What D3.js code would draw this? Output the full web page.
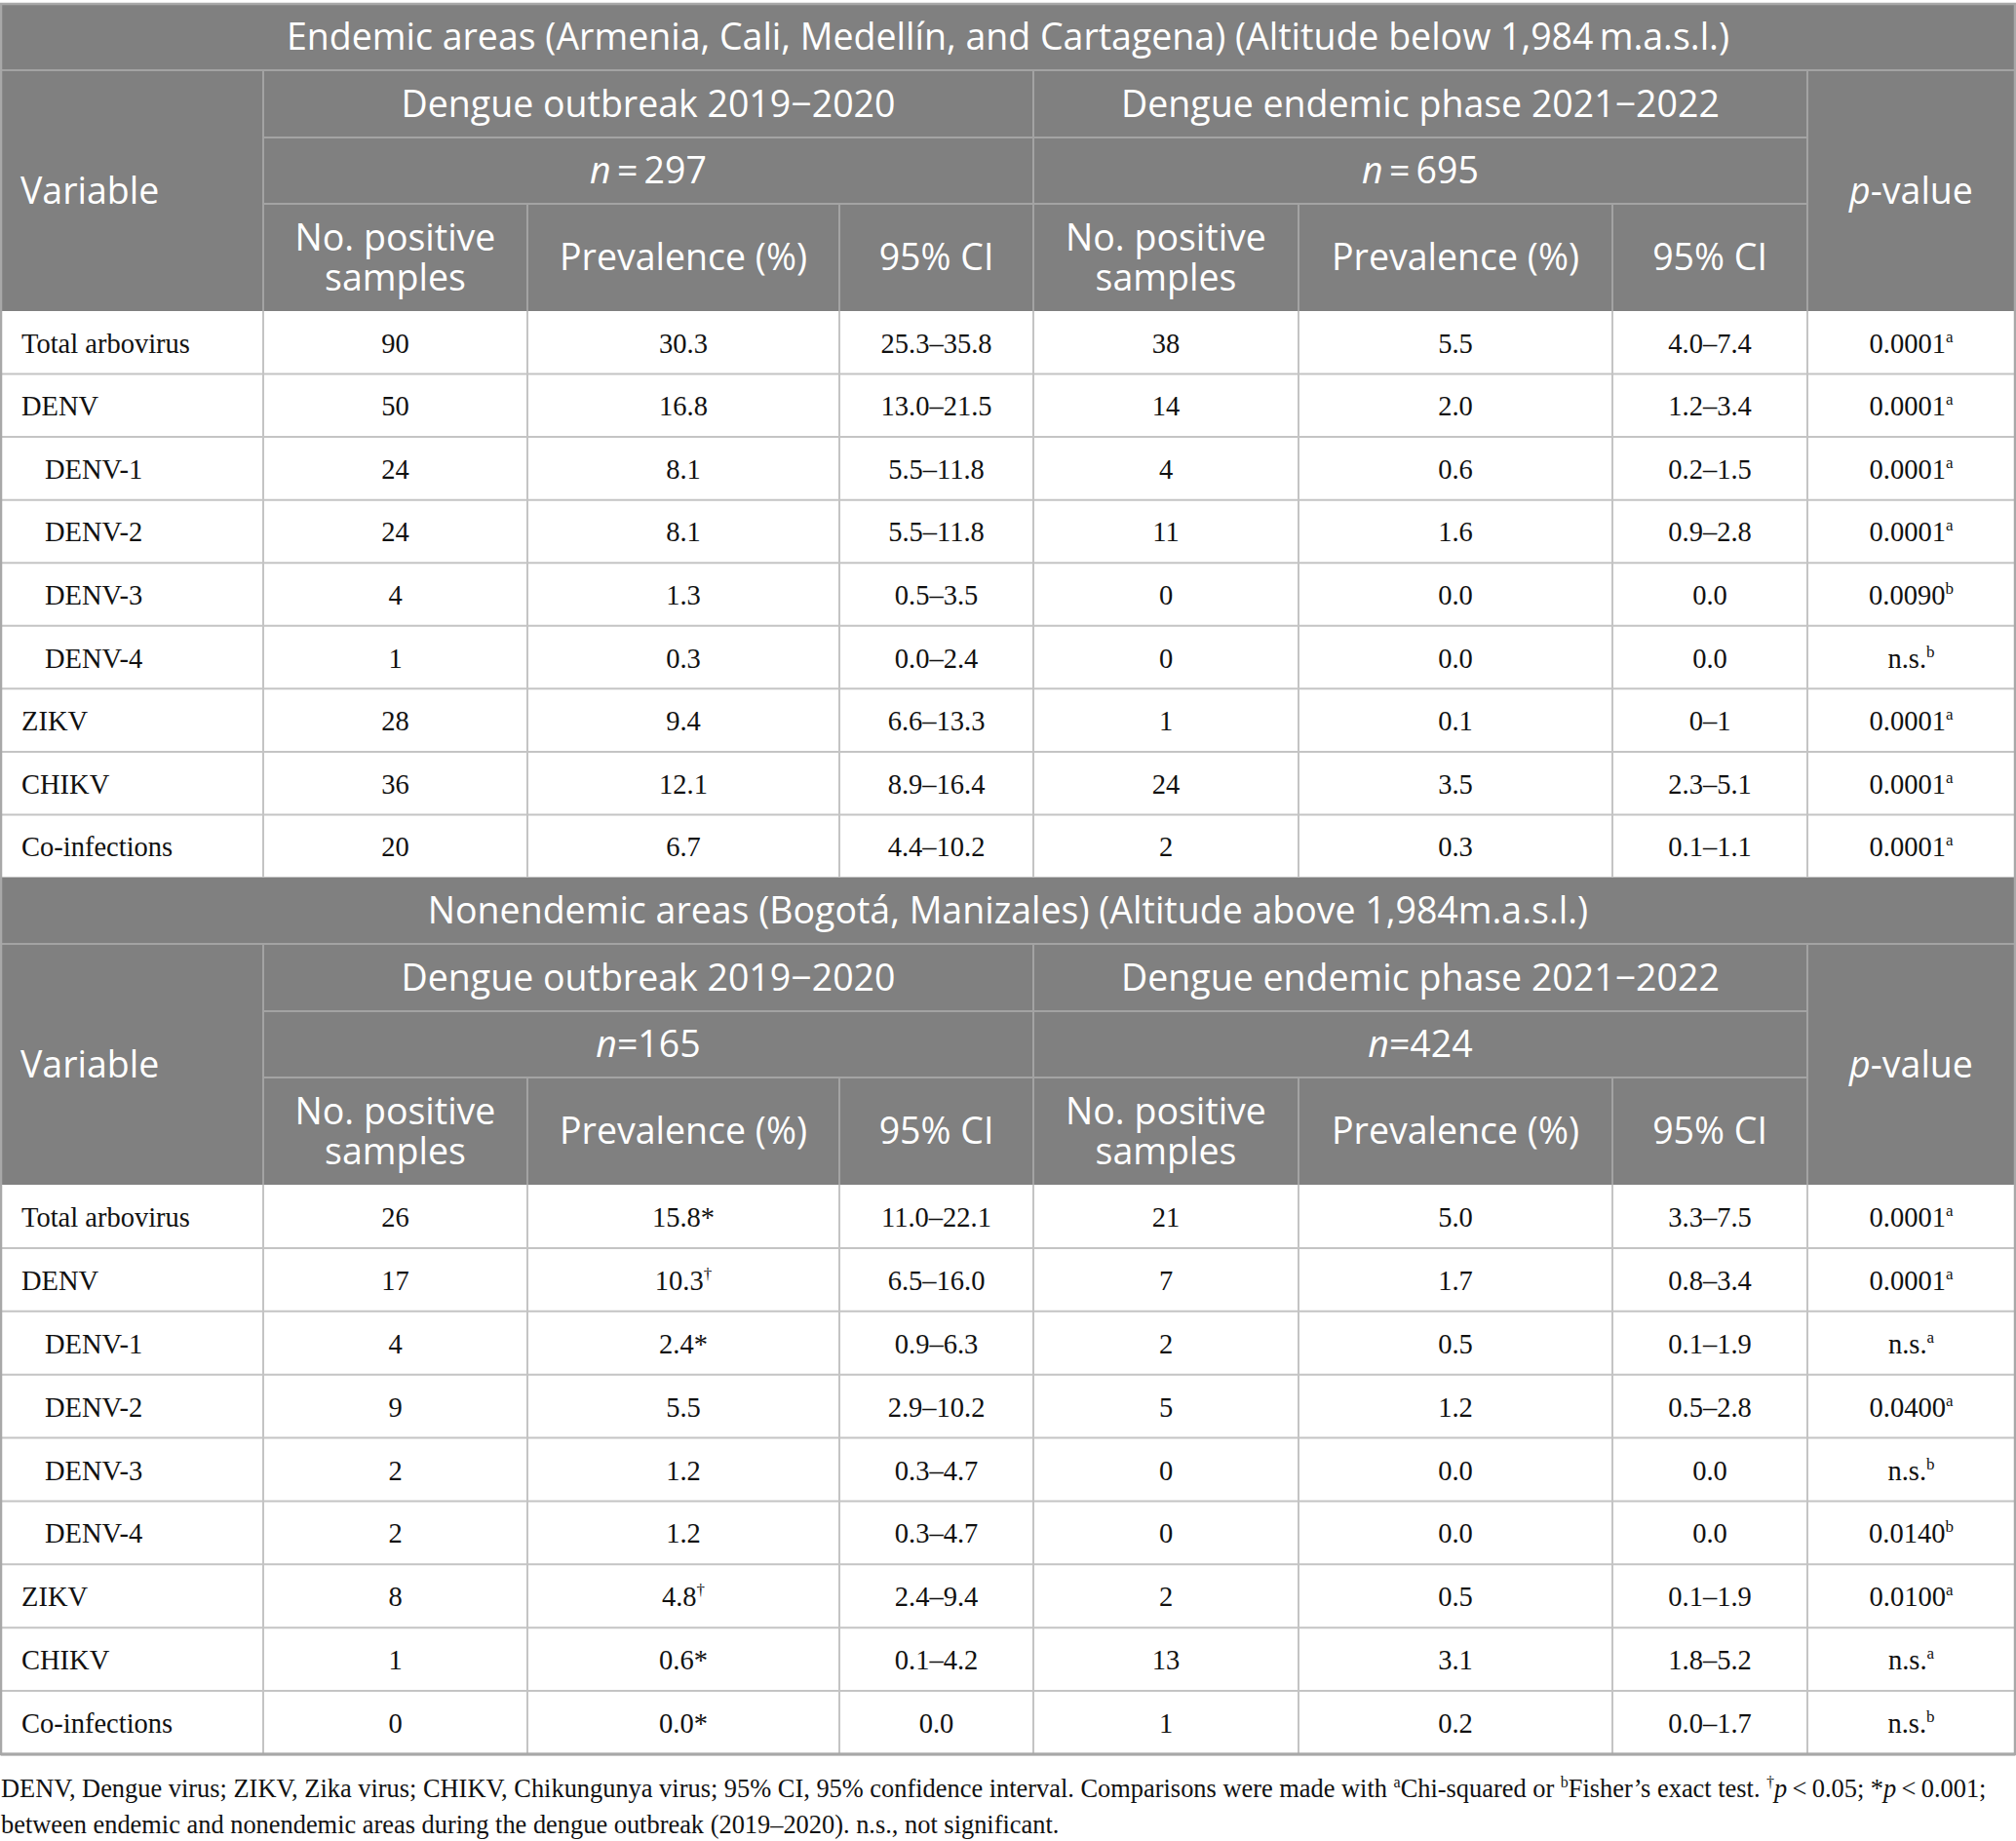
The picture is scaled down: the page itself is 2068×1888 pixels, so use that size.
<!DOCTYPE html>
<html><head><meta charset="utf-8">
<script src="https://cdn.jsdelivr.net/npm/d3@7/dist/d3.min.js"></script>
<style>body{margin:0;background:#fff}</style>
</head><body>
<svg id="chart" width="2068" height="1888"></svg>
<script>
// ---------- DATA ----------
const variables = ["Total arbovirus","DENV","DENV-1","DENV-2","DENV-3","DENV-4","ZIKV","CHIKV","Co-infections"];
const indented  = [false,false,true,true,true,true,false,false,false];

const sectionTitles = [
  "Endemic areas (Armenia, Cali, Medellín, and Cartagena) (Altitude below 1,984\u2009m.a.s.l.)",
  "Nonendemic areas (Bogotá, Manizales) (Altitude above 1,984m.a.s.l.)"
];
const periodLabels = ["Dengue outbreak 2019\u22122020","Dengue endemic phase 2021\u22122022"];
const sampleSizes1 = ["297","695"];
const sampleSizes2 = ["165","424"];
const subHeaders = [["No. positive","samples"],["Prevalence (%)"],["95% CI"]];

// Endemic areas
const e_outPos  = ["90","50","24","24","4","1","28","36","20"];
const e_outPrev = ["30.3","16.8","8.1","8.1","1.3","0.3","9.4","12.1","6.7"];
const e_outCI   = ["25.3–35.8","13.0–21.5","5.5–11.8","5.5–11.8","0.5–3.5","0.0–2.4","6.6–13.3","8.9–16.4","4.4–10.2"];
const e_endPos  = ["38","14","4","11","0","0","1","24","2"];
const e_endPrev = ["5.5","2.0","0.6","1.6","0.0","0.0","0.1","3.5","0.3"];
const e_endCI   = ["4.0–7.4","1.2–3.4","0.2–1.5","0.9–2.8","0.0","0.0","0–1","2.3–5.1","0.1–1.1"];
const e_p       = ["0.0001","0.0001","0.0001","0.0001","0.0090","n.s.","0.0001","0.0001","0.0001"];
const e_pSup    = ["a","a","a","a","b","b","a","a","a"];

// Nonendemic areas
const n_outPos  = ["26","17","4","9","2","2","8","1","0"];
const n_outPrev = ["15.8","10.3","2.4","5.5","1.2","1.2","4.8","0.6","0.0"];
const n_outMark = ["*","†","*","","","","†","*","*"];
const n_outCI   = ["11.0–22.1","6.5–16.0","0.9–6.3","2.9–10.2","0.3–4.7","0.3–4.7","2.4–9.4","0.1–4.2","0.0"];
const n_endPos  = ["21","7","2","5","0","0","2","13","1"];
const n_endPrev = ["5.0","1.7","0.5","1.2","0.0","0.0","0.5","3.1","0.2"];
const n_endCI   = ["3.3–7.5","0.8–3.4","0.1–1.9","0.5–2.8","0.0","0.0","0.1–1.9","1.8–5.2","0.0–1.7"];
const n_p       = ["0.0001","0.0001","n.s.","0.0400","n.s.","0.0140","0.0100","n.s.","n.s."];
const n_pSup    = ["a","a","a","a","b","b","a","a","b"];

// ---------- LAYOUT ----------
const W = 2068;
const colEdges = [1,270,541,861,1060,1332,1654,1854,2067];
const col = d3.scaleOrdinal().domain(d3.range(9)).range(colEdges);
const colMid = i => (col(i)+col(i+1))/2;

const HEAD_BG = "#808080", HEAD_LINE = "#a3a3a3", GRID = "#c4c4c4";
const SANS = "'Open Sans', 'Noto Sans', sans-serif";
const SERIF = "'Liberation Serif', 'DejaVu Serif', serif";

const svg = d3.select("#chart");

function section(top, title, nLabels, rowsTop, rowsBottom, cols) {
  const hy = [top, top+68, top+137, top+205, rowsTop];
  const g = svg.append("g");
  g.append("rect").attr("x",1).attr("y",top).attr("width",W-2).attr("height",rowsTop-top).attr("fill",HEAD_BG);

  const L = (x1,y1,x2,y2,c) => g.append("line").attr("x1",x1).attr("y1",y1).attr("x2",x2).attr("y2",y2)
      .attr("stroke",c).attr("stroke-width",2);
  L(col(0),hy[1],col(8),hy[1],HEAD_LINE);
  L(col(1),hy[2],col(7),hy[2],HEAD_LINE);
  L(col(1),hy[3],col(7),hy[3],HEAD_LINE);
  L(col(1),hy[1],col(1),rowsTop,HEAD_LINE);
  L(col(4),hy[1],col(4),rowsTop,HEAD_LINE);
  L(col(7),hy[1],col(7),rowsTop,HEAD_LINE);
  [2,3,5,6].forEach(i=>L(col(i),hy[3],col(i),rowsTop,HEAD_LINE));

  const fs = 37.5, off = fs*0.35;
  const ht = (x,y,txt) => g.append("text").attr("x",x).attr("y",y).attr("fill","#fff")
      .attr("font-family",SANS).attr("font-size",fs).attr("text-anchor","middle").text(txt);
  ht(W/2,(hy[0]+hy[1])/2+off,title);
  g.append("text").attr("x",21).attr("y",(hy[1]+rowsTop)/2+off).attr("fill","#fff")
   .attr("font-family",SANS).attr("font-size",fs).text("Variable");
  const pv = g.append("text").attr("x",colMid(7)).attr("y",(hy[1]+rowsTop)/2+off).attr("fill","#fff")
     .attr("font-family",SANS).attr("font-size",fs).attr("text-anchor","middle");
  pv.append("tspan").attr("font-style","italic").text("p");
  pv.append("tspan").text("-value");

  [0,1].forEach(k=>{
    const x = (col(1+3*k)+col(4+3*k))/2;
    ht(x,(hy[1]+hy[2])/2+off,periodLabels[k]);
    const t = g.append("text").attr("x",x).attr("y",(hy[2]+hy[3])/2+off).attr("fill","#fff")
      .attr("font-family",SANS).attr("font-size",fs).attr("text-anchor","middle");
    t.append("tspan").attr("font-style","italic").text("n");
    t.append("tspan").text(nLabels[k]);
    subHeaders.forEach((lines,j)=>{
      const cx = colMid(1+3*k+j), cy = (hy[3]+rowsTop)/2;
      const st = g.append("text").attr("fill","#fff").attr("font-family",SANS)
        .attr("font-size",fs).attr("text-anchor","middle");
      lines.forEach((ln,li)=>{
        st.append("tspan").attr("x",cx)
          .attr("y",cy + off + (li - (lines.length-1)/2)*41).text(ln);
      });
    });
  });

  // body rows
  const y = d3.scaleBand().domain(d3.range(variables.length)).range([rowsTop,rowsBottom]);
  const b = svg.append("g");
  b.selectAll("line.h").data(d3.range(variables.length)).join("line")
    .attr("x1",col(0)).attr("x2",col(8))
    .attr("y1",d=>y(d)+y.bandwidth()).attr("y2",d=>y(d)+y.bandwidth())
    .attr("stroke",GRID).attr("stroke-width",2);
  b.selectAll("line.v").data(d3.range(1,8)).join("line")
    .attr("x1",d=>col(d)).attr("x2",d=>col(d))
    .attr("y1",rowsTop).attr("y2",rowsBottom)
    .attr("stroke",GRID).attr("stroke-width",2);

  const bfs = 28.5, boff = 10.5;
  b.selectAll("text.var").data(variables).join("text")
    .attr("x",(d,i)=>indented[i]?46:22).attr("y",(d,i)=>y(i)+y.bandwidth()/2+boff)
    .attr("font-family",SERIF).attr("font-size",bfs).attr("fill","#111").text(d=>d);

  cols.forEach((c,ci)=>{
    const cell = b.selectAll(null).data(c.vals).join("text")
      .attr("x",colMid(ci+1)).attr("y",(d,i)=>y(i)+y.bandwidth()/2+boff)
      .attr("text-anchor","middle").attr("font-family",SERIF).attr("font-size",bfs).attr("fill","#111");
    cell.append("tspan").text(d=>d);
    if (c.mark) {
      cell.each(function(d,i){
        const m = c.mark[i];
        if (m==="*") d3.select(this).append("tspan").text("*");
        else if (m) d3.select(this).append("tspan").attr("font-size",17).attr("dy",-11).text(m);
      });
    }
    if (c.sup) {
      cell.each(function(d,i){
        d3.select(this).append("tspan").attr("font-size",17).attr("dy",-11).text(c.sup[i]);
      });
    }
  });
}

section(4, sectionTitles[0], sampleSizes1.map(s=>"\u2009=\u2009"+s), 319, 900, [
  {vals:e_outPos},{vals:e_outPrev},{vals:e_outCI},
  {vals:e_endPos},{vals:e_endPrev},{vals:e_endCI},
  {vals:e_p, sup:e_pSup}
]);
section(900, sectionTitles[1], sampleSizes2.map(s=>"="+s), 1215, 1799, [
  {vals:n_outPos},{vals:n_outPrev, mark:n_outMark},{vals:n_outCI},
  {vals:n_endPos},{vals:n_endPrev},{vals:n_endCI},
  {vals:n_p, sup:n_pSup}
]);

svg.append("rect").attr("x",1).attr("y",4).attr("width",W-2).attr("height",1799-4)
  .attr("fill","none").attr("stroke","#a8a8a8").attr("stroke-width",2.5);
svg.append("line").attr("x1",1).attr("x2",W-1).attr("y1",1799).attr("y2",1799)
  .attr("stroke","#a8a8a8").attr("stroke-width",3);

// footnote
const fn = svg.append("g").attr("font-family",SERIF).attr("font-size",26.4).attr("fill","#111");
const f1 = fn.append("text").attr("x",1).attr("y",1843);
const sup = (t,s)=>t.append("tspan").attr("font-size",16).attr("dy",-10).text(s);
const nrm = (t,s)=>t.append("tspan").attr("dy",10).text(s);
f1.append("tspan").text("DENV, Dengue virus; ZIKV, Zika virus; CHIKV, Chikungunya virus; 95% CI, 95% confidence interval. Comparisons were made with ");
sup(f1,"a"); nrm(f1,"Chi-squared or ");
sup(f1,"b"); nrm(f1,"Fisher’s exact test. ");
sup(f1,"†"); f1.append("tspan").attr("dy",10).attr("font-style","italic").text("p");
f1.append("tspan").text("\u2009<\u20090.05; *");
f1.append("tspan").attr("font-style","italic").text("p");
f1.append("tspan").text("\u2009<\u20090.001;");
fn.append("text").attr("x",1).attr("y",1880)
  .text("between endemic and nonendemic areas during the dengue outbreak (2019–2020). n.s., not significant.");
</script>
</body></html>
